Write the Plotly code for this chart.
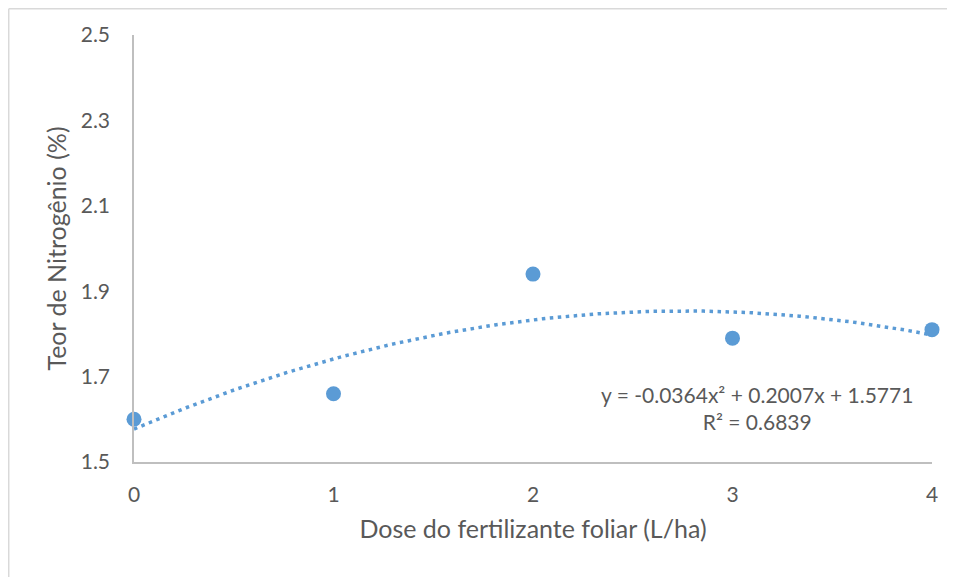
import numpy as np
import plotly.graph_objects as go

dose = [0, 1, 2, 3, 4]
teor_n = [1.60, 1.66, 1.94, 1.79, 1.81]
coef = [-0.0364, 0.2007, 1.5771]  # trendline coefficients as shown in the chart
eq_text = "y = -0.0364x² + 0.2007x + 1.5771<br>R² = 0.6839"
y_ticks = [1.5, 1.7, 1.9, 2.1, 2.3, 2.5]
x_ticks = [0, 1, 2, 3, 4]

xs = np.linspace(0, 4, 200)
ys = np.polyval(coef, xs)

blue = "#5B9BD5"
gray = "#595959"
font = "Lato"

fig = go.Figure()
fig.add_trace(go.Scatter(x=xs, y=ys, mode="lines",
                         line=dict(color=blue, width=3.5, dash="3.5px,4.5px"),
                         hoverinfo="skip", showlegend=False, cliponaxis=False))
fig.add_trace(go.Scatter(x=dose, y=teor_n, mode="markers",
                         marker=dict(color=blue, size=15),
                         showlegend=False, cliponaxis=False))

fig.update_layout(
    width=947, height=569,
    margin=dict(l=126, r=23, t=27, b=115),
    paper_bgcolor="white", plot_bgcolor="white",
    font=dict(family=font, color=gray),
    xaxis=dict(range=[0, 4], tickvals=x_ticks, showgrid=False, zeroline=False,
               showline=True, linecolor="#BFBFBF", linewidth=1.5,
               tickfont=dict(size=21, color=gray), ticks="",
               ticklabelstandoff=13,
               title=dict(text="Dose do fertilizante foliar (L/ha)",
                          font=dict(size=25, color=gray), standoff=16)),
    yaxis=dict(range=[1.5, 2.5], tickvals=y_ticks, tickformat=".1f",
               showgrid=False, zeroline=False,
               showline=True, linecolor="#BFBFBF", linewidth=1.5,
               tickfont=dict(size=21, color=gray), ticks="",
               ticklabelstandoff=18,
               title=dict(text="Teor de Nitrogênio (%)",
                          font=dict(size=25, color=gray), standoff=7)),
    annotations=[dict(x=3.123, y=1.627, xref="x", yref="y", text=eq_text,
                      showarrow=False, align="center", yanchor="middle",
                      font=dict(size=21, color=gray, family=font))],
    shapes=[
        dict(type="line", xref="paper", yref="paper", x0=-0.157, x1=1.1,
             y0=1.0615, y1=1.0615, line=dict(color="#D9D9D9", width=1.5)),
        dict(type="line", xref="paper", yref="paper", x0=-0.157, x1=-0.157,
             y0=1.0615, y1=-0.3, line=dict(color="#D9D9D9", width=1.5)),
    ],
)

fig.write_html("out.html")
